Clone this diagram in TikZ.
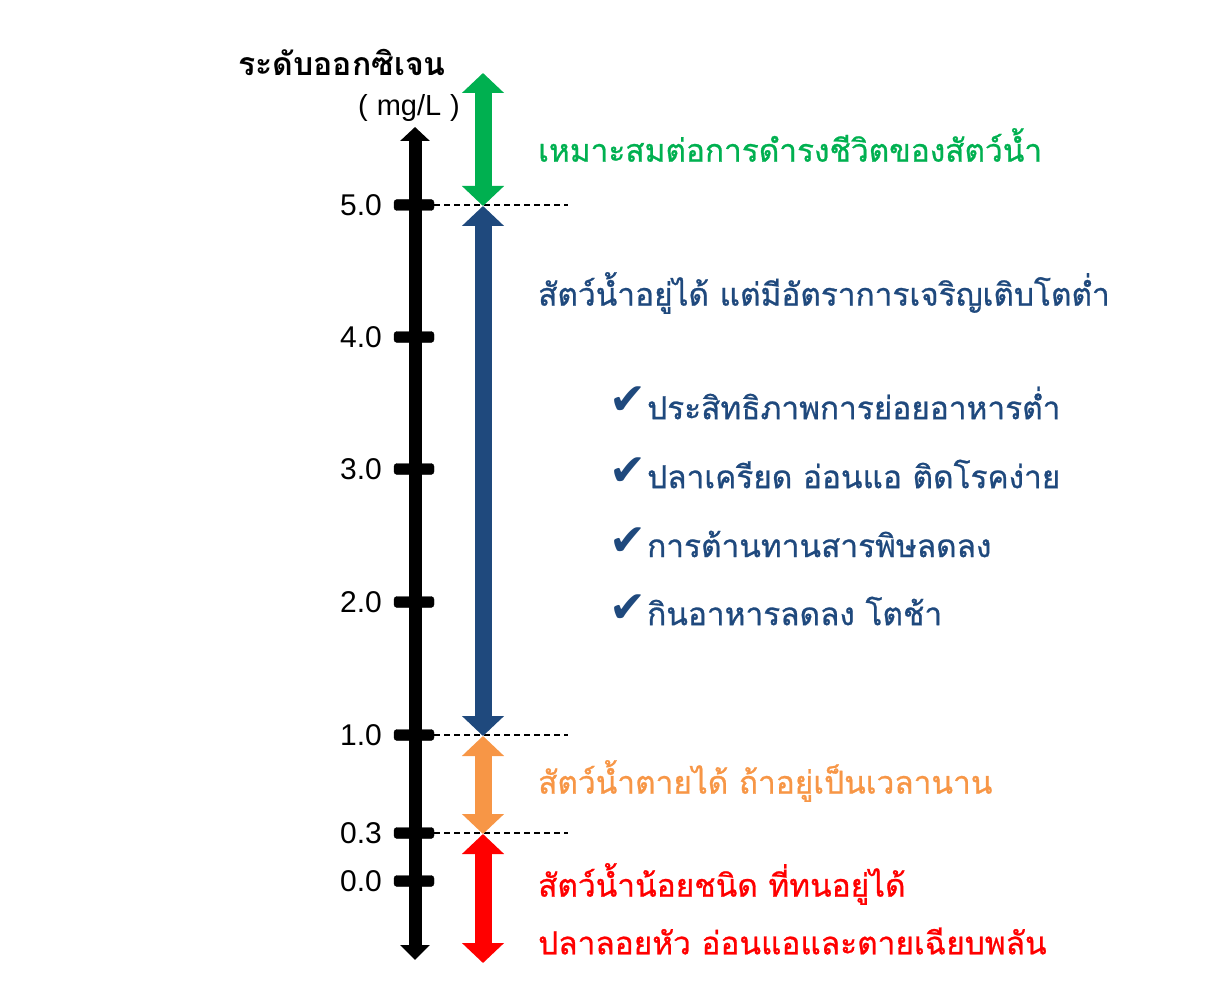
\documentclass[tikz,border=0pt]{standalone}
\usepackage{fontspec}
\setmainfont{Liberation Sans}
\newfontfamily\thaifont[Script=Thai]{Loma}
\newfontfamily\thaimid[Script=Thai, FakeBold=0.8]{Loma}
\newfontfamily\symfont{DejaVu Sans}
\usetikzlibrary{arrows.meta}
\definecolor{okgreen}{HTML}{00B050}
\definecolor{lowblue}{HTML}{1F497D}
\definecolor{warnorange}{HTML}{F79646}
\definecolor{dangerred}{HTML}{FF0000}
\tikzset{
  levelbar/.style={fill=black, rounded corners=3pt},
  guide/.style={line width=1.3pt, dash pattern=on 6pt off 4pt},
  band/.style={line width=17pt, {Triangle[width=41pt,length=20pt]}-{Triangle[width=41pt,length=20pt]}},
  bandtext/.style={anchor=west, inner sep=0pt, font=\thaimid\fontsize{31.6}{38}\selectfont},
  ticklabel/.style={anchor=east, inner sep=0pt, font=\fontsize{30}{34}\selectfont},
}
\begin{document}
\begin{tikzpicture}[x=1pt, y=1pt]
  \useasboundingbox (0,0) rectangle (1208,-1003);
  % levels on the axis
  \coordinate (axtop) at (415,-127);
  \coordinate (axbot) at (415,-960);
  \coordinate (gtop) at (483,-73);
  \coordinate (lv5) at (483,-206);
  \coordinate (lv1) at (483,-736);
  \coordinate (lv03) at (483,-834);
  \coordinate (rbot) at (483,-963);
  % axis
  \draw[line width=13pt, {Triangle[width=29pt,length=15pt]}-{Triangle[width=29pt,length=14pt]}] (axbot) -- (axtop);
  \foreach \y/\lab/\nm in {205/5.0/t5, 337/4.0/t4, 469/3.0/t3, 602/2.0/t2, 735/1.0/t1, 833/0.3/t03, 881/0.0/t0}{
    \draw[levelbar] (394,-\y-5.5) rectangle (434,-\y+5.5);
    \node[ticklabel] (\nm) at (382,-\y) {\lab};
  }
  \node[inner sep=0pt, font=\thaifont\bfseries\fontsize{32}{38}\selectfont] (title) at (342,-62) {ระดับออกซิเจน};
  \node[inner sep=0pt, font=\fontsize{29}{32}\selectfont] (unit) at (409,-108) {(\hspace{9pt}mg/L\hspace{9pt})};
  % dashed guides
  \foreach \y in {205,735,833}
    \draw[guide] (434,-\y) -- (568,-\y);
  % bands
  \draw[band, okgreen] (gtop) -- (lv5);
  \draw[band, lowblue] (lv5) -- (lv1);
  \draw[band, warnorange] (lv1) -- (lv03);
  \draw[band, dangerred] (lv03) -- (rbot);
  % texts
  \node[bandtext, text=okgreen] (good) at (538,-145) {เหมาะสมต่อการดำรงชีวิตของสัตว์น้ำ};
  \node[bandtext, text=lowblue] (low) at (538,-293) {สัตว์น้ำอยู่ได้ แต่มีอัตราการเจริญเติบโตต่ำ};
  \foreach \y/\txt/\nm in {403/ประสิทธิภาพการย่อยอาหารต่ำ/c1, 474/ปลาเครียด อ่อนแอ ติดโรคง่าย/c2, 544/การต้านทานสารพิษลดลง/c3, 611/กินอาหารลดลง โตช้า/c4}{
    \node[inner sep=0pt, anchor=west, text=lowblue, font=\symfont\fontsize{44}{48}\selectfont] (\nm mark) at (609,-\y+2) {✔};
    \node[bandtext, text=lowblue] (\nm) at (647,-\y) {\txt};
  }
  \node[bandtext, text=warnorange] (die) at (538,-781) {สัตว์น้ำตายได้ ถ้าอยู่เป็นเวลานาน};
  \node[bandtext, text=dangerred] (few) at (538,-884) {สัตว์น้ำน้อยชนิด ที่ทนอยู่ได้};
  \node[bandtext, text=dangerred] (float) at (538,-941) {ปลาลอยหัว อ่อนแอและตายเฉียบพลัน};
\end{tikzpicture}
\end{document}
